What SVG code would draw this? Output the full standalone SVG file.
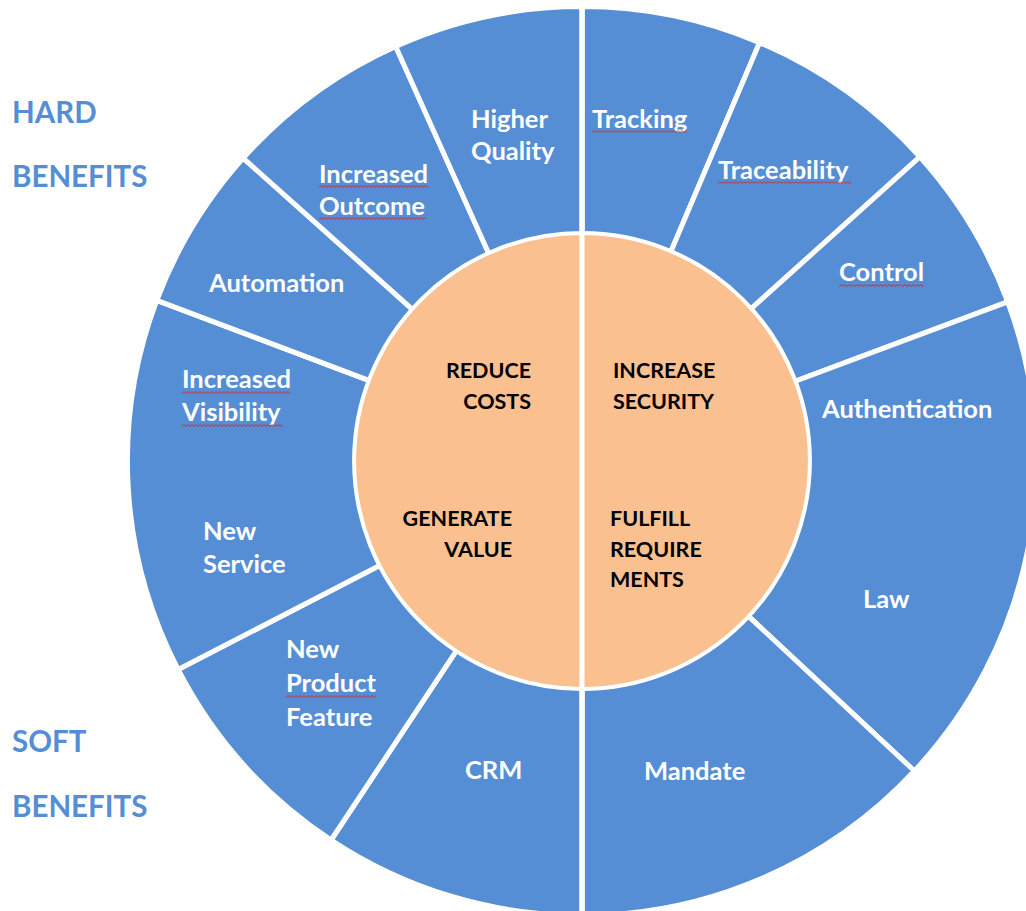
<svg xmlns="http://www.w3.org/2000/svg" width="1026" height="911" viewBox="0 0 1026 911">
<style>
.seg{fill:#558ED5;stroke:#FFFFFF;stroke-width:5;stroke-linejoin:round}
.core{fill:#FAC090;stroke:#FFFFFF;stroke-width:4}
.lbl{font-family:Lato,"Liberation Sans",sans-serif;font-weight:700;font-size:25.5px;fill:#FFFFFF}
.ctr{font-family:Lato,"Liberation Sans",sans-serif;font-weight:700;font-size:21.5px;fill:#000000}
.side{font-family:Lato,"Liberation Sans",sans-serif;font-weight:700;font-size:29.5px;fill:#558ED5}
.sq{fill:url(#squiggle)}
</style>
<defs>
<pattern id="squiggle" patternUnits="userSpaceOnUse" width="4" height="3">
<path d="M0 2.4 L2 0.6 L4 2.4" fill="none" stroke="#E0201B" stroke-width="0.9"/>
</pattern>
</defs>
<rect width="1026" height="911" fill="#FFFFFF"/>

<g id="seg-tracking">
<path class="seg" d="M582 461 L582 6.5 A454.5 454.5 0 0 1 759.6 42.6 Z"/>
<text class="lbl" x="592" y="128">Tracking</text>
<rect class="sq" transform="translate(592,130)" width="95" height="3"/>
</g>
<g id="seg-traceability">
<path class="seg" d="M582 461 L759.6 42.6 A454.5 454.5 0 0 1 919.8 156.9 Z"/>
<text class="lbl" x="718" y="179">Traceability</text>
<rect class="sq" transform="translate(718,181)" width="133" height="3"/>
</g>
<g id="seg-control">
<path class="seg" d="M582 461 L919.8 156.9 A454.5 454.5 0 0 1 1007.7 301.8 Z"/>
<text class="lbl" x="839" y="281">Control</text>
<rect class="sq" transform="translate(839,284)" width="85" height="3"/>
</g>
<g id="seg-authentication-law">
<path class="seg" d="M582 461 L1007.7 301.8 A454.5 454.5 0 0 1 914.4 771 Z"/>
<text class="lbl" x="822" y="418">Authentication</text>
<text class="lbl" x="863" y="608">Law</text>
</g>
<g id="seg-mandate">
<path class="seg" d="M582 461 L914.4 771 A454.5 454.5 0 0 1 582 915.5 Z"/>
<text class="lbl" x="644" y="780">Mandate</text>
</g>
<g id="seg-crm">
<path class="seg" d="M582 461 L582 915.5 A454.5 454.5 0 0 1 331.1 840 Z"/>
<text class="lbl" x="465" y="779">CRM</text>
</g>
<g id="seg-new-product-feature">
<path class="seg" d="M582 461 L331.1 840 A454.5 454.5 0 0 1 178.1 669.5 Z"/>
<text class="lbl" x="286" y="658">New</text>
<text class="lbl" x="286" y="692">Product</text>
<text class="lbl" x="286" y="726">Feature</text>
<rect class="sq" transform="translate(286,695)" width="90" height="3"/>
</g>
<g id="seg-visibility-service">
<path class="seg" d="M582 461 L178.1 669.5 A454.5 454.5 0 0 1 156.8 300.3 Z"/>
<text class="lbl" x="182" y="388">Increased</text>
<text class="lbl" x="182" y="421">Visibility</text>
<rect class="sq" transform="translate(182,391)" width="108" height="3"/>
<rect class="sq" transform="translate(182,424)" width="101" height="3"/>
<text class="lbl" x="203" y="540">New</text>
<text class="lbl" x="203" y="573">Service</text>
</g>
<g id="seg-automation">
<path class="seg" d="M582 461 L156.8 300.3 A454.5 454.5 0 0 1 243.2 158.1 Z"/>
<text class="lbl" x="209" y="292">Automation</text>
</g>
<g id="seg-increased-outcome">
<path class="seg" d="M582 461 L243.2 158.1 A454.5 454.5 0 0 1 395.7 46.4 Z"/>
<text class="lbl" x="319" y="183">Increased</text>
<text class="lbl" x="319" y="215">Outcome</text>
<rect class="sq" transform="translate(319,185)" width="109" height="3"/>
<rect class="sq" transform="translate(319,217)" width="107" height="3"/>
</g>
<g id="seg-higher-quality">
<path class="seg" d="M582 461 L395.7 46.4 A454.5 454.5 0 0 1 582 6.5 Z"/>
<text class="lbl" x="471" y="128">Higher</text>
<text class="lbl" x="471" y="160">Quality</text>
</g>

<g id="core-left">
<path class="core" d="M582 233 A228 228 0 0 0 582 689 Z"/>
<text class="ctr" x="531" y="378" text-anchor="end">REDUCE</text>
<text class="ctr" x="531" y="408.5" text-anchor="end">COSTS</text>
<text class="ctr" x="512" y="526" text-anchor="end">GENERATE</text>
<text class="ctr" x="512" y="557" text-anchor="end">VALUE</text>
</g>
<g id="core-right">
<path class="core" d="M582 233 A228 228 0 0 1 582 689 Z"/>
<text class="ctr" x="613" y="378">INCREASE</text>
<text class="ctr" x="613" y="408.5">SECURITY</text>
<text class="ctr" x="610" y="526">FULFILL</text>
<text class="ctr" x="610" y="557">REQUIRE</text>
<text class="ctr" x="610" y="587">MENTS</text>
</g>

<g id="dividers">
<line x1="582" y1="4" x2="582" y2="911" stroke="#FFFFFF" stroke-width="5"/>
</g>

<g id="label-hard-benefits">
<text class="side" x="12" y="123">HARD</text>
<text class="side" x="12" y="187">BENEFITS</text>
</g>
<g id="label-soft-benefits">
<text class="side" x="12" y="752">SOFT</text>
<text class="side" x="12" y="817">BENEFITS</text>
</g>
</svg>
